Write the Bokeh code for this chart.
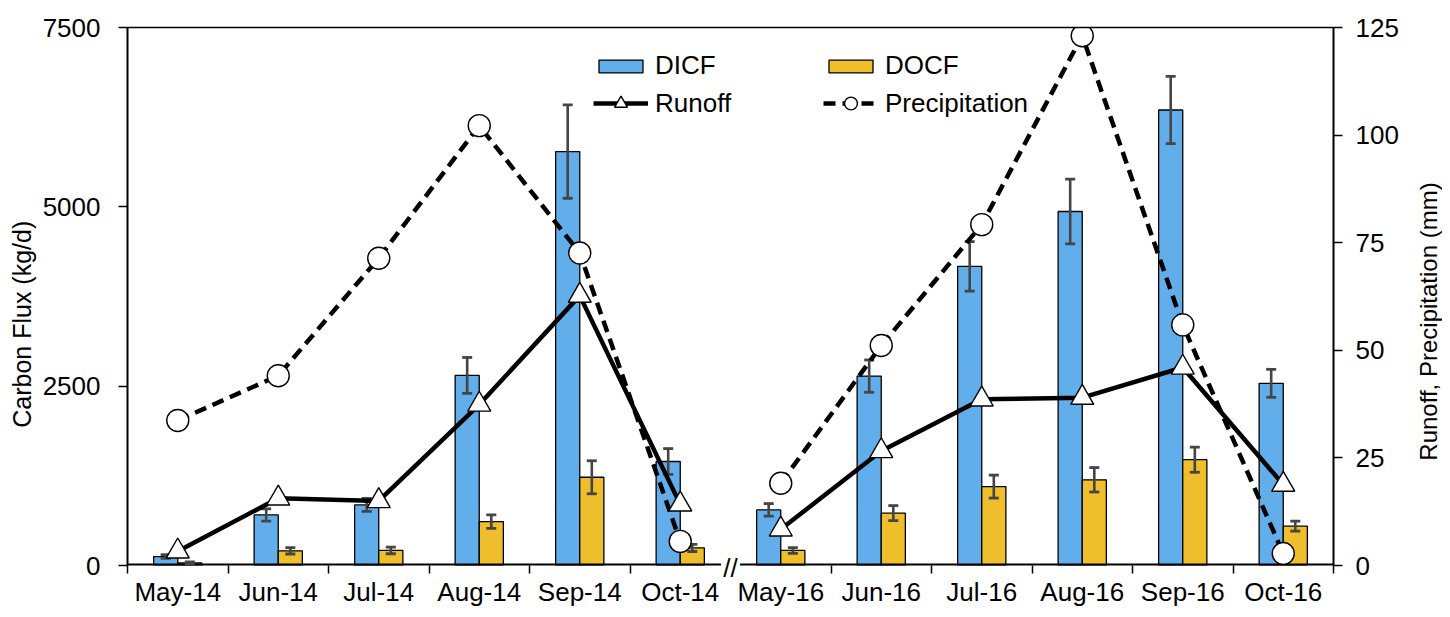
import math
from bokeh.plotting import figure
from bokeh.layouts import row
from bokeh.models import Range1d, LinearAxis, FixedTicker, Legend, LegendItem
from bokeh.embed import file_html
from bokeh.resources import INLINE
from bokeh.core.properties import value

months = ["May-14", "Jun-14", "Jul-14", "Aug-14", "Sep-14", "Oct-14",
          "May-16", "Jun-16", "Jul-16", "Aug-16", "Sep-16", "Oct-16"]
dicf = [125, 705, 845, 2650, 5770, 1450, 775, 2640, 4170, 4935, 6350, 2540]
dicf_err = [25, 85, 90, 250, 650, 180, 88, 225, 345, 450, 470, 195]
docf = [35, 205, 210, 612, 1230, 245, 210, 730, 1100, 1195, 1475, 548]
docf_err = [15, 45, 46, 95, 230, 50, 40, 105, 160, 170, 175, 70]
runoff = [3.3, 15.6, 15.0, 37.4, 62.7, 14.2, 8.4, 26.6, 38.6, 39.0, 46.0, 18.8]
precip = [33.7, 44.1, 71.4, 102.2, 72.6, 5.6, 19.1, 51.1, 79.2, 123.1, 55.9, 2.8]
left_ticks = [0, 2500, 5000, 7500]
right_ticks = [0, 25, 50, 75, 100, 125]
left_title = "Carbon Flux (kg/d)"
right_title = "Runoff, Precipitation (mm)"
break_mark = "//"
split = 6  # axis break between Oct-14 and May-16

BLUE = "#62AEEA"
YELLOW = "#EFBE2C"
GRAY = "#454545"
FONT = "Liberation Sans"
TICK_FS = "26px"
NBSP = "\u00a0"

n = len(months)
xs = list(range(n))
bw = 0.24
gap = 0.095
y_top = 7500

p = figure(width=1413, height=609, output_backend="svg", toolbar_location=None,
           x_range=Range1d(-0.5, n - 0.5), y_range=Range1d(0, y_top),
           min_border_left=127, min_border_right=80, min_border_top=27, min_border_bottom=44)
p.xgrid.visible = False
p.ygrid.visible = False
p.outline_line_color = None
p.background_fill_color = "white"
p.border_fill_color = "white"

# x axis (labels on 2nd line, break mark on 1st line)
brk = split - 0.5
xa = p.xaxis[0]
xa.ticker = FixedTicker(ticks=xs + [brk], minor_ticks=[i - 0.5 for i in range(n + 1) if i != split])
overrides = {i: "\n" + m for i, m in zip(xs, months)}
overrides[brk] = break_mark
xa.major_label_overrides = overrides
xa.major_tick_line_color = None
xa.major_tick_out = 0
xa.major_tick_in = 0
xa.minor_tick_out = 8
xa.minor_tick_in = 0
xa.minor_tick_line_color = "black"
xa.minor_tick_line_width = 1.5
xa.axis_line_color = None
xa.major_label_standoff = -21
xa.major_label_text_line_height = 0.8
xa.major_label_text_font = FONT
xa.major_label_text_font_size = TICK_FS
xa.major_label_text_color = "black"

# top border line as an axis without ticks
top = LinearAxis(ticker=FixedTicker(ticks=[]), axis_line_width=1.5, axis_line_color="black",
                 major_tick_line_color=None, minor_tick_line_color=None,
                 major_label_text_font_size="0px")
p.add_layout(top, "above")

# left axis
ya = p.yaxis[0]
ya.ticker = FixedTicker(ticks=left_ticks)
ya.axis_label = left_title + NBSP * 8
ya.axis_label_text_font = FONT
ya.axis_label_text_font_size = "25px"
ya.axis_label_text_font_style = "normal"
ya.axis_label_text_color = "black"
ya.axis_label_standoff = 4
ya.major_label_text_font = FONT
ya.major_label_text_font_size = TICK_FS
ya.major_label_text_color = "black"
ya.major_label_standoff = 18
ya.major_tick_out = 9
ya.major_tick_in = 0
ya.minor_tick_line_color = None
ya.axis_line_width = 2
ya.major_tick_line_width = 1.5

# right axis
p.extra_y_ranges = {"mm": Range1d(0, 125)}
ra = LinearAxis(y_range_name="mm", ticker=FixedTicker(ticks=right_ticks))
ra.major_label_text_font = FONT
ra.major_label_text_font_size = TICK_FS
ra.major_label_text_color = "black"
ra.major_label_standoff = 13
ra.major_tick_out = 9
ra.major_tick_in = 0
ra.minor_tick_line_color = None
ra.axis_line_width = 2
ra.major_tick_line_width = 1.5
p.add_layout(ra, "right")

# bars
x_dicf = [x - bw / 2 for x in xs]
x_docf = [x + bw / 2 for x in xs]
b1 = p.vbar(x=x_dicf, top=dicf, width=bw, fill_color=BLUE, line_color="black", line_width=1.3)
b2 = p.vbar(x=x_docf, top=docf, width=bw, fill_color=YELLOW, line_color="black", line_width=1.3)

# baseline with a gap at the axis break
p.segment(x0=[-0.5, brk + gap], x1=[brk - gap, n - 0.5], y0=[0, 0], y1=[0, 0],
          line_color="black", line_width=4)

# error bars
for xe, v, e in ((x_dicf, dicf, dicf_err), (x_docf, docf, docf_err)):
    lo = [a - b for a, b in zip(v, e)]
    hi = [a + b for a, b in zip(v, e)]
    p.segment(x0=xe, y0=lo, x1=xe, y1=hi, line_color=GRAY, line_width=2.6)
    p.scatter(x=xe, y=hi, marker="dash", size=10, line_color=GRAY, line_width=2.8)
    p.scatter(x=xe, y=lo, marker="dash", size=10, line_color=GRAY, line_width=2.8)

# lines (two segments, broken at the axis break)
rl, rs, pl, ps = [], [], [], []
for sl in (slice(0, split), slice(split, n)):
    pl.append(p.line(x=xs[sl], y=precip[sl], y_range_name="mm", line_color="black",
                     line_width=4.5, line_dash="12 7"))
    rl.append(p.line(x=xs[sl], y=runoff[sl], y_range_name="mm", line_color="black",
                     line_width=4.5))
for sl in (slice(0, split), slice(split, n)):
    ps.append(p.scatter(x=xs[sl], y=precip[sl], y_range_name="mm", marker="circle", size=22,
                        fill_color="white", line_color="black", line_width=1.4))
    rs.append(p.scatter(x=xs[sl], y=runoff[sl], y_range_name="mm", marker="triangle", size=23,
                        fill_color="white", line_color="black", line_width=1.4))

common = dict(orientation="horizontal", glyph_width=55, label_standoff=7, label_width=150,
              spacing=18, padding=0, margin=0, border_line_color=None, background_fill_alpha=0,
              label_text_font=FONT, label_text_font_size=TICK_FS, label_text_color="black")
legend_bars = Legend(items=[
    LegendItem(label="DICF", renderers=[b1]),
    LegendItem(label="DOCF", renderers=[b2]),
], location=(466, 484), glyph_height=16, **common)
legend_lines = Legend(items=[
    LegendItem(label="Runoff", renderers=[rl[0], rs[0]]),
    LegendItem(label="Precipitation", renderers=[pl[0], ps[0]]),
], location=(466, 446), glyph_height=32, **common)
p.add_layout(legend_bars)
p.add_layout(legend_lines)

# right-hand axis title, in a narrow strip so it reads bottom-to-top
p2 = figure(width=29, height=609, output_backend="svg", toolbar_location=None,
            x_range=Range1d(0, 1), y_range=Range1d(0, 1),
            x_axis_location=None, y_axis_location=None, min_border=0)
p2.xgrid.visible = False
p2.ygrid.visible = False
p2.outline_line_color = None
p2.background_fill_color = "white"
p2.border_fill_color = "white"
p2.text(x=[0.5], y=[0.5], text=[right_title], angle=math.pi / 2, y_offset=25,
        text_align="center", text_baseline="middle", text_font=value(FONT),
        text_font_size="24px", text_color="black")

layout = row(p, p2, spacing=0)
open("out.html", "w").write(file_html(layout, INLINE))
